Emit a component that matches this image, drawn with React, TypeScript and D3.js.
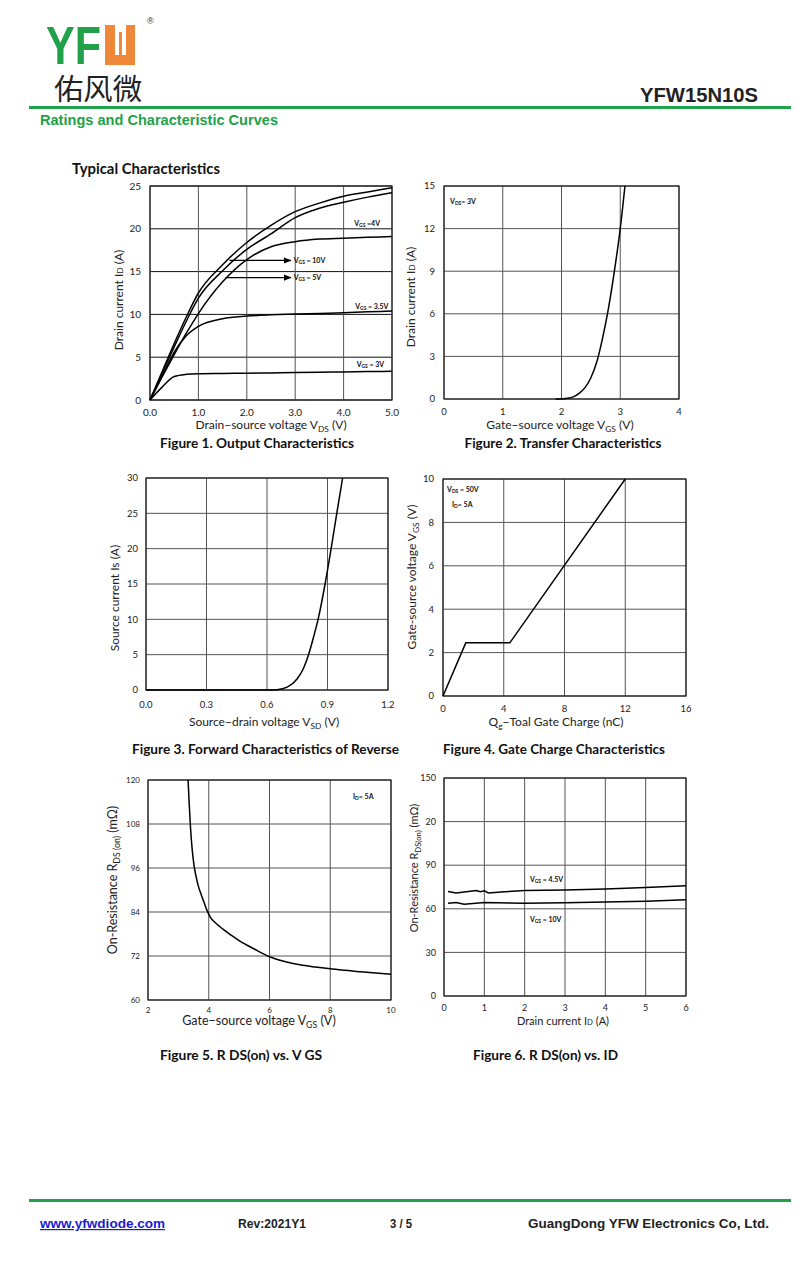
import React from 'react';
import * as d3 from 'd3';

// ---------- DATA ----------
// Figure 1: Output characteristics (VDS in V, ID in A)
const f1Vds = [0, 0.25, 0.5, 0.75, 1.0, 1.5, 2.0, 2.5, 3.0, 3.5, 4.0, 4.5, 5.0];
const f1Id10 = [0, 3.3, 6.6, 9.7, 12.5, 15.8, 18.4, 20.4, 22.0, 23.0, 23.8, 24.3, 24.8];
const f1Id5 = [0, 3.1, 6.2, 9.2, 11.9, 15.1, 17.6, 19.4, 21.3, 22.4, 23.1, 23.7, 24.2];
const f1Id4 = [0, 2.7, 5.3, 7.8, 10.1, 13.8, 16.4, 17.9, 18.5, 18.8, 18.9, 19.0, 19.1];
const f1Id35 = [0, 2.8, 5.6, 7.5, 8.6, 9.5, 9.8, 9.95, 10.05, 10.1, 10.2, 10.3, 10.4];
const f1Id3 = [0, 1.5, 2.75, 3.0, 3.07, 3.1, 3.13, 3.16, 3.2, 3.25, 3.28, 3.32, 3.35];
const f1XTicks = [0, 1, 2, 3, 4, 5];
const f1YTicks = [0, 5, 10, 15, 20, 25];

// Figure 2: Transfer characteristics
const f2Vgs = [1.9, 2.0, 2.1, 2.2, 2.3, 2.4, 2.5, 2.6, 2.7, 2.8, 2.9, 3.0, 3.08];
const f2Id = [0, 0.02, 0.05, 0.15, 0.4, 0.8, 1.5, 2.6, 4.3, 6.4, 9.0, 12.0, 15.0];
const f2XTicks = [0, 1, 2, 3, 4];
const f2YTicks = [0, 3, 6, 9, 12, 15];

// Figure 3: Body diode forward characteristics
const f3Vsd = [0, 0.6, 0.65, 0.7, 0.75, 0.78, 0.806, 0.83, 0.855, 0.888, 0.918, 0.946, 0.975];
const f3Is = [0, 0, 0.05, 0.4, 1.6, 3, 5, 7.4, 10.2, 15, 20, 25, 30];
const f3XTicks = [0, 0.3, 0.6, 0.9, 1.2];
const f3YTicks = [0, 5, 10, 15, 20, 25, 30];

// Figure 4: Gate charge
const f4Qg = [0, 1.5, 4.4, 12];
const f4Vgs = [0, 2.45, 2.45, 10];
const f4XTicks = [0, 4, 8, 12, 16];
const f4YTicks = [0, 2, 4, 6, 8, 10];

// Figure 5: RDS(on) vs VGS
const f5Vgs = [3.32, 3.36, 3.4, 3.45, 3.51, 3.58, 3.66, 3.75, 3.85, 3.95, 4.05, 4.2, 4.35, 4.5, 4.75, 5, 5.5, 6, 6.5, 7, 7.5, 8, 9, 10];
const f5R = [120, 113, 107, 101.5, 97, 93.8, 91, 88.8, 86.5, 84.3, 82.6, 81.2, 80.1, 79.1, 77.6, 76.2, 73.9, 71.8, 70.5, 69.6, 69, 68.5, 67.7, 67];
const f5XTicks = [2, 4, 6, 8, 10];
const f5YTicks = [60, 72, 84, 96, 108, 120];

// Figure 6: RDS(on) vs ID
const f6Id45 = [0.1, 0.3, 0.5, 0.8, 0.9, 1.0, 1.1, 1.5, 2, 3, 4, 5, 6];
const f6R45 = [71.9, 70.9, 71.6, 72.6, 71.8, 72.4, 70.9, 71.7, 72.6, 73, 73.7, 74.7, 75.8];
const f6Id10 = [0.1, 0.3, 0.5, 1, 2, 3, 4, 5, 6];
const f6R10 = [63.9, 64.3, 63.2, 64.3, 63.9, 64.2, 64.6, 65.2, 66.2];
const f6XTicks = [0, 1, 2, 3, 4, 5, 6];
const f6YTicks = [0, 30, 60, 90, 120, 150];
const f6YLabels = ['0', '30', '60', '90', '20', '150'];

// ---------- STYLE ----------
const CAL = "Lato, 'Open Sans', sans-serif";
const ARIAL = "'Liberation Sans', Arial, sans-serif";
const GREEN = '#21a24a';
const ORANGE = '#f0883a';

type Rect = { l: number; r: number; t: number; b: number };
type Series = { xs: number[]; ys: number[]; linear?: boolean };

function Panel(props: {
  rect: Rect;
  xd: [number, number];
  yd: [number, number];
  xt: number[];
  yt: number[];
  xfmt: (v: number, i: number) => string;
  yfmt: (v: number, i: number) => string;
  series: Series[];
  xTickY: number;
  yTickX: number;
  tickSize: number;
  hGrid?: string;
  vGrid?: string;
  children?: (x: d3.ScaleLinear<number, number>, y: d3.ScaleLinear<number, number>) => React.ReactNode;
}) {
  const { rect, xd, yd, xt, yt, series } = props;
  const x = d3.scaleLinear().domain(xd).range([rect.l, rect.r]);
  const y = d3.scaleLinear().domain(yd).range([rect.b, rect.t]);
  const hG = props.hGrid || '#555';
  const vG = props.vGrid || '#555';
  return (
    <g>
      {yt.map((v) => (
        <line key={'h' + v} x1={rect.l} x2={rect.r} y1={y(v)} y2={y(v)} stroke={hG} strokeWidth={1} />
      ))}
      {xt.map((v) => (
        <line key={'v' + v} x1={x(v)} x2={x(v)} y1={rect.t} y2={rect.b} stroke={vG} strokeWidth={1} />
      ))}
      <rect x={rect.l} y={rect.t} width={rect.r - rect.l} height={rect.b - rect.t} fill="none" stroke="#222" strokeWidth={1.2} />
      {series.map((s, i) => {
        const pts: [number, number][] = s.xs.map((xv, j) => [xv, s.ys[j]]);
        const line = d3
          .line<[number, number]>()
          .x((d) => x(d[0]))
          .y((d) => y(d[1]))
          .curve(s.linear ? d3.curveLinear : d3.curveMonotoneX);
        return <path key={i} d={line(pts) || ''} fill="none" stroke="#000" strokeWidth={1.5} />;
      })}
      {xt.map((v, i) => (
        <text key={'xt' + v} x={x(v)} y={props.xTickY} textAnchor="middle" fontFamily={CAL} fontSize={props.tickSize} fill="#222">
          {props.xfmt(v, i)}
        </text>
      ))}
      {yt.map((v, i) => (
        <text key={'yt' + v} x={props.yTickX} y={y(v) + props.tickSize * 0.35} textAnchor="end" fontFamily={CAL} fontSize={props.tickSize} fill="#222">
          {props.yfmt(v, i)}
        </text>
      ))}
      {props.children ? props.children(x, y) : null}
    </g>
  );
}

function Lbl(props: { x: number; y: number; pre: string; sub: string; post: string; size?: number; anchor?: string }) {
  const s = props.size || 7;
  return (
    <text x={props.x} y={props.y} fontFamily={CAL} fontWeight="bold" fontSize={s} fill="#111" textAnchor={props.anchor || 'start'}>
      {props.pre}
      <tspan fontSize={s * 0.7} dy={s * 0.15}>{props.sub}</tspan>
      <tspan dy={-s * 0.15}>{props.post}</tspan>
    </text>
  );
}

function AxisTitle(props: { x: number; y: number; pre: string; sub: string; post: string; size?: number; rotate?: boolean; subShift?: boolean }) {
  const s = props.size || 12;
  const shift = props.subShift === false ? 0 : s * 0.25;
  return (
    <text
      x={props.rotate ? 0 : props.x}
      y={props.rotate ? 0 : props.y}
      transform={props.rotate ? `translate(${props.x},${props.y}) rotate(-90)` : undefined}
      textAnchor="middle"
      fontFamily={CAL}
      fontSize={s}
      fill="#222"
    >
      {props.pre}
      <tspan fontSize={s * 0.7} dy={shift}>{props.sub}</tspan>
      <tspan dy={-shift}>{props.post}</tspan>
    </text>
  );
}

function Caption(props: { x: number; y: number; text: string; width: number }) {
  return (
    <text x={props.x} y={props.y} textAnchor="middle" fontFamily={CAL} fontWeight="bold" fontSize={14} fill="#111" textLength={props.width} lengthAdjust="spacingAndGlyphs">
      {props.text}
    </text>
  );
}

const fmt1 = (v: number) => d3.format('.1f')(v);
const fmt0 = (v: number) => String(v);

export default function App() {
  return (
    <svg width={800} height={1270} style={{ position: 'absolute', left: 0, top: 0, background: '#fff' }}>
      <defs>
        <marker id="arr" viewBox="0 0 10 10" refX="9" refY="5" markerWidth="6" markerHeight="6" orient="auto">
          <path d="M0,1 L10,5 L0,9 z" fill="#000" />
        </marker>
      </defs>
      <rect x={0} y={0} width={800} height={1270} fill="#fff" />

      {/* ---------- Header ---------- */}
      <text x={46} y={64} fontFamily={ARIAL} fontWeight="bold" fontSize={54} fill={GREEN} textLength={55} lengthAdjust="spacingAndGlyphs">YF</text>
      <path d="M105,25 H115 V55 H119 V32 H122 V55 H126 V25 H135 V65 H105 Z" fill={ORANGE} />
      <text x={147} y={24} fontFamily={ARIAL} fontSize={9} fill="#333">®</text>
      <text x={54} y={100} fontFamily="'Noto Sans CJK SC', sans-serif" fontSize={29} fill="#222" textLength={88} lengthAdjust="spacingAndGlyphs">佑风微</text>
      <text x={758} y={102} textAnchor="end" fontFamily={ARIAL} fontWeight="bold" fontSize={20} fill="#222" textLength={118} lengthAdjust="spacingAndGlyphs">YFW15N10S</text>
      <line x1={29} x2={791} y1={107.5} y2={107.5} stroke={GREEN} strokeWidth={3} />
      <text x={40} y={125} fontFamily={"'Liberation Sans Narrow', " + ARIAL} fontWeight="bold" fontSize={15} fill={GREEN} textLength={238} lengthAdjust="spacingAndGlyphs">Ratings and Characteristic Curves</text>
      <text x={72} y={174} fontFamily={CAL} fontWeight="bold" fontSize={15} fill="#111" textLength={148} lengthAdjust="spacingAndGlyphs">Typical Characteristics</text>

      {/* ---------- Figure 1 ---------- */}
      <Panel
        rect={{ l: 150, r: 392, t: 186, b: 400 }}
        xd={[0, 5]}
        yd={[0, 25]}
        xt={f1XTicks}
        yt={f1YTicks}
        xfmt={fmt1}
        yfmt={fmt0}
        xTickY={416}
        yTickX={141}
        tickSize={10}
        hGrid="#111"
        vGrid="#555"
        series={[
          { xs: f1Vds, ys: f1Id10 },
          { xs: f1Vds, ys: f1Id5 },
          { xs: f1Vds, ys: f1Id4 },
          { xs: f1Vds, ys: f1Id35 },
          { xs: f1Vds, ys: f1Id3 },
        ]}
      >
        {(x, y) => (
          <g>
            <line x1={x(1.64)} x2={x(2.91)} y1={y(16.3)} y2={y(16.3)} stroke="#000" strokeWidth={1.3} markerEnd="url(#arr)" />
            <line x1={x(1.56)} x2={x(2.91)} y1={y(14.3)} y2={y(14.3)} stroke="#000" strokeWidth={1.3} markerEnd="url(#arr)" />
            <Lbl x={x(2.97)} y={y(16.3) + 2.5} pre="V" sub="GS" post=" = 10V" />
            <Lbl x={x(2.97)} y={y(14.3) + 2.5} pre="V" sub="GS" post=" = 5V" />
            <Lbl x={x(4.22)} y={y(20.65) + 2.5} pre="V" sub="GS" post=" =4V" />
            <Lbl x={x(4.24)} y={y(10.9) + 2.5} pre="V" sub="GS" post=" = 3.5V" />
            <Lbl x={x(4.27)} y={y(4.2) + 2.5} pre="V" sub="GS" post=" = 3V" />
          </g>
        )}
      </Panel>
      <AxisTitle x={271} y={429} pre="Drain−source voltage V" sub="DS" post=" (V)" size={12} />
      <AxisTitle x={123} y={300} pre="Drain current I" sub="D" post=" (A)" size={12} rotate subShift={false} />
      <Caption x={257} y={448} text="Figure 1. Output Characteristics" width={194} />

      {/* ---------- Figure 2 ---------- */}
      <Panel
        rect={{ l: 444, r: 679, t: 186, b: 399 }}
        xd={[0, 4]}
        yd={[0, 15]}
        xt={f2XTicks}
        yt={f2YTicks}
        xfmt={fmt0}
        yfmt={fmt0}
        xTickY={415}
        yTickX={435}
        tickSize={9.5}
        series={[{ xs: f2Vgs, ys: f2Id }]}
      >
        {(x, y) => <Lbl x={450} y={204} pre="V" sub="DS" post="= 3V" />}
      </Panel>
      <AxisTitle x={560} y={429} pre="Gate−source voltage V" sub="GS" post=" (V)" size={12} />
      <AxisTitle x={415} y={297} pre="Drain current I" sub="D" post=" (A)" size={12} rotate subShift={false} />
      <Caption x={563} y={448} text="Figure 2. Transfer Characteristics" width={197} />

      {/* ---------- Figure 3 ---------- */}
      <Panel
        rect={{ l: 146, r: 388, t: 478, b: 690 }}
        xd={[0, 1.2]}
        yd={[0, 30]}
        xt={f3XTicks}
        yt={f3YTicks}
        xfmt={fmt1}
        yfmt={fmt0}
        xTickY={708}
        yTickX={138}
        tickSize={9.5}
        series={[{ xs: f3Vsd, ys: f3Is }]}
      />
      <AxisTitle x={264} y={726} pre="Source−drain voltage V" sub="SD" post=" (V)" size={12} />
      <AxisTitle x={119} y={598} pre="Source current Is (A)" sub="" post="" size={12} rotate />
      <Caption x={265.5} y={754} text="Figure 3. Forward Characteristics of Reverse" width={267} />

      {/* ---------- Figure 4 ---------- */}
      <Panel
        rect={{ l: 443, r: 686, t: 479, b: 696 }}
        xd={[0, 16]}
        yd={[0, 10]}
        xt={f4XTicks}
        yt={f4YTicks}
        xfmt={fmt0}
        yfmt={fmt0}
        xTickY={712}
        yTickX={434}
        tickSize={9.5}
        series={[{ xs: f4Qg, ys: f4Vgs, linear: true }]}
      >
        {(x, y) => (
          <g>
            <Lbl x={447} y={492} pre="V" sub="DS" post=" = 50V" />
            <Lbl x={452} y={507} pre="I" sub="D" post="= 5A" />
          </g>
        )}
      </Panel>
      <AxisTitle x={556} y={726} pre="Q" sub="g" post="−Toal Gate Charge  (nC)" size={12} />
      <AxisTitle x={416} y={577} pre="Gate-source voltage V" sub="GS" post=" (V)" size={12} rotate />
      <Caption x={554} y={754} text="Figure 4. Gate Charge Characteristics" width={222} />

      {/* ---------- Figure 5 ---------- */}
      <Panel
        rect={{ l: 148, r: 391, t: 780, b: 1000 }}
        xd={[2, 10]}
        yd={[60, 120]}
        xt={f5XTicks}
        yt={f5YTicks}
        xfmt={fmt0}
        yfmt={fmt0}
        xTickY={1013}
        yTickX={140}
        tickSize={8}
        series={[{ xs: f5Vgs, ys: f5R }]}
      >
        {(x, y) => <Lbl x={353} y={799} pre="I" sub="D" post="= 5A" />}
      </Panel>
      <AxisTitle x={259} y={1025} pre="Gate−source voltage V" sub="GS" post=" (V)" size={12.5} />
      <AxisTitle x={117} y={880} pre="On-Resistance  R" sub="DS (on)" post=" (mΩ)" size={12.5} rotate />
      <Caption x={241} y={1060} text="Figure 5. R DS(on) vs. V GS" width={162} />

      {/* ---------- Figure 6 ---------- */}
      <Panel
        rect={{ l: 444, r: 686, t: 778, b: 996 }}
        xd={[0, 6]}
        yd={[0, 150]}
        xt={f6XTicks}
        yt={f6YTicks}
        xfmt={fmt0}
        yfmt={(v, i) => f6YLabels[i]}
        xTickY={1011}
        yTickX={436}
        tickSize={9}
        series={[
          { xs: f6Id45, ys: f6R45, linear: true },
          { xs: f6Id10, ys: f6R10, linear: true },
        ]}
      >
        {(x, y) => (
          <g>
            <Lbl x={x(2.13)} y={y(79.9) + 2.5} pre="V" sub="GS" post=" = 4.5V" />
            <Lbl x={x(2.13)} y={y(52.4) + 2.5} pre="V" sub="GS" post=" = 10V" />
          </g>
        )}
      </Panel>
      <AxisTitle x={563} y={1025} pre="Drain current I" sub="D" post=" (A)" size={11} subShift={false} />
      <AxisTitle x={418} y={868} pre="On-Resistance  R" sub="DS(on)" post=" (mΩ)" size={11} rotate />
      <Caption x={545.5} y={1060} text="Figure 6. R DS(on) vs. ID" width={145} />

      {/* ---------- Footer ---------- */}
      <line x1={29} x2={791} y1={1200.5} y2={1200.5} stroke={GREEN} strokeWidth={3} />
      <text x={40} y={1228} fontFamily={ARIAL} fontWeight="bold" fontSize={12} fill="#1b1bd6" textDecoration="underline" textLength={125} lengthAdjust="spacingAndGlyphs">www.yfwdiode.com</text>
      <text x={238} y={1228} fontFamily={ARIAL} fontWeight="bold" fontSize={12} fill="#222" textLength={68} lengthAdjust="spacingAndGlyphs">Rev:2021Y1</text>
      <text x={390} y={1228} fontFamily={ARIAL} fontWeight="bold" fontSize={12} fill="#222" textLength={22} lengthAdjust="spacingAndGlyphs">3 / 5</text>
      <text x={528} y={1228} fontFamily={ARIAL} fontWeight="bold" fontSize={13} fill="#222" textLength={241} lengthAdjust="spacingAndGlyphs">GuangDong YFW Electronics Co, Ltd.</text>
    </svg>
  );
}
